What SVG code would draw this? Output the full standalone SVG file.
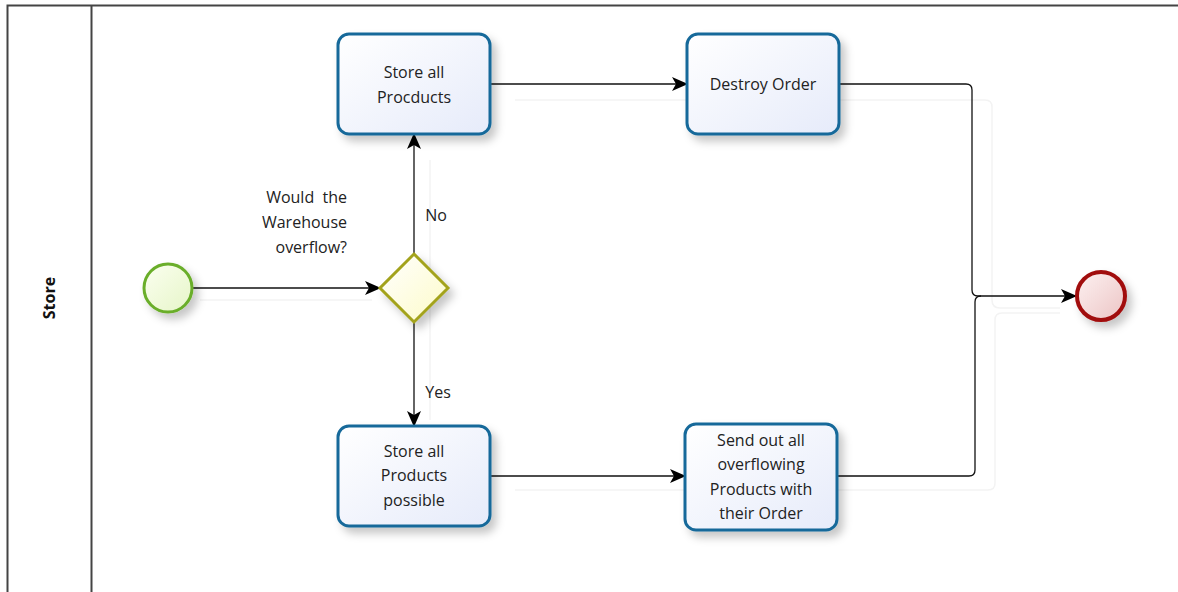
<svg xmlns="http://www.w3.org/2000/svg" width="1178" height="592" viewBox="0 0 1178 592">
<style>
.lbl{font-family:"Open Sans","Noto Sans",sans-serif;font-size:16px;fill:#222;text-anchor:middle}
.task{fill:url(#gTask);stroke:#17699a;stroke-width:3}
.flow{fill:none;stroke:#111;stroke-width:1.3}
.ghost{fill:none;stroke:#f3f3f3;stroke-width:1.5}
</style>
<defs>
<linearGradient id="gTask" x1="0" y1="0" x2="1" y2="1"><stop offset="0" stop-color="#ffffff"/><stop offset="1" stop-color="#e6ebfa"/></linearGradient>
<linearGradient id="gStart" x1="0" y1="0" x2="1" y2="1"><stop offset="0" stop-color="#fbfff0"/><stop offset="1" stop-color="#e6f5c8"/></linearGradient>
<linearGradient id="gEnd" x1="0" y1="0" x2="1" y2="1"><stop offset="0" stop-color="#fdf2f2"/><stop offset="1" stop-color="#ecc4c4"/></linearGradient>
<linearGradient id="gGate" x1="0" y1="0" x2="1" y2="1"><stop offset="0" stop-color="#ffffff"/><stop offset="1" stop-color="#fdfbc8"/></linearGradient>
<filter id="sh" x="-30%" y="-30%" width="170%" height="170%"><feDropShadow dx="5" dy="6" stdDeviation="4" flood-color="#000" flood-opacity="0.22"/></filter>
<marker id="arr" viewBox="0 0 16 14" refX="15" refY="7" markerWidth="16" markerHeight="14" markerUnits="userSpaceOnUse" orient="auto"><path d="M0,0 L16,7 L0,14 L4,7 Z" fill="#000"/></marker>
</defs>
<rect width="1178" height="592" fill="#fff"/>
<g id="pool">
<path d="M7.5,592 V5.5 H1178" fill="none" stroke="#444" stroke-width="2"/>
<line x1="91.5" y1="5" x2="91.5" y2="592" stroke="#444" stroke-width="2"/>
<text transform="translate(55,298) rotate(-90)" style="font-family:'Open Sans','Noto Sans',sans-serif;font-size:16px;font-weight:bold;fill:#111;text-anchor:middle">Store</text>
</g>
<g id="ghosts">
<path class="ghost" d="M200,300 H372"/>
<path class="ghost" d="M430,160 V420"/>
<path class="ghost" d="M515,100 H985 Q992,100 992,107 V300 Q992,308 1000,308 H1060"/>
<path class="ghost" d="M515,490 H988 Q995,490 995,483 V320 Q995,313 1002,313 H1060"/>
</g>
<g id="connectors">
<path class="flow" d="M193,288 H380" marker-end="url(#arr)"/>
<path class="flow" d="M414,254 V134" marker-end="url(#arr)"/>
<path class="flow" d="M414,322 V426" marker-end="url(#arr)"/>
<path class="flow" d="M490,84 H687" marker-end="url(#arr)"/>
<path class="flow" d="M490,476 H685" marker-end="url(#arr)"/>
<path class="flow" d="M839,84 H966 Q972,84 972,90 V290 Q972,296 978,296 H1076" marker-end="url(#arr)"/>
<path class="flow" d="M837,476 H969 Q975,476 975,470 V302 Q975,296 981,296"/>
<text class="lbl" x="436" y="221">No</text>
<text class="lbl" x="438" y="398">Yes</text>
</g>
<g id="start"><circle cx="168" cy="288" r="24" fill="url(#gStart)" stroke="#6aae2a" stroke-width="3" filter="url(#sh)"/></g>
<g id="gateway">
<polygon points="414,254 448,288 414,322 380,288" fill="url(#gGate)" stroke="#a3a31e" stroke-width="3" filter="url(#sh)"/>
<text class="lbl" style="text-anchor:end" x="347" y="203">Would&#160; the</text>
<text class="lbl" style="text-anchor:end" x="347" y="228">Warehouse</text>
<text class="lbl" style="text-anchor:end" x="347" y="253">overflow?</text>
</g>
<g id="storeAll">
<rect class="task" x="338" y="34" width="152" height="100" rx="11" filter="url(#sh)"/>
<text class="lbl" x="414" y="78">Store all</text>
<text class="lbl" x="414" y="103">Procducts</text>
</g>
<g id="destroy">
<rect class="task" x="687" y="34" width="152" height="100" rx="11" filter="url(#sh)"/>
<text class="lbl" x="763" y="90">Destroy Order</text>
</g>
<g id="storePossible">
<rect class="task" x="338" y="426" width="152" height="100" rx="11" filter="url(#sh)"/>
<text class="lbl" x="414" y="457">Store all</text>
<text class="lbl" x="414" y="481">Products</text>
<text class="lbl" x="414" y="506">possible</text>
</g>
<g id="sendOut">
<rect class="task" x="685" y="424" width="152" height="106" rx="11" filter="url(#sh)"/>
<text class="lbl" x="761" y="446">Send out all</text>
<text class="lbl" x="761" y="470">overflowing</text>
<text class="lbl" x="761" y="495">Products with</text>
<text class="lbl" x="761" y="519">their Order</text>
</g>
<g id="end"><circle cx="1101" cy="296" r="24" fill="url(#gEnd)" stroke="#a10a0a" stroke-width="4" filter="url(#sh)"/></g>
</svg>
